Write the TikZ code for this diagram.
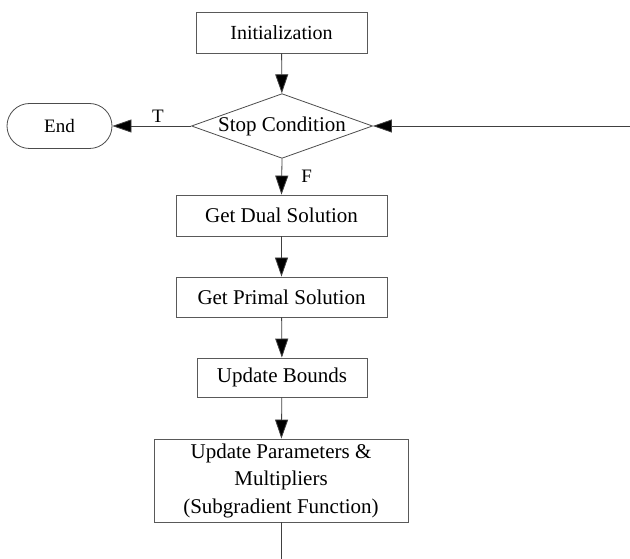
\documentclass[tikz,border=0pt]{standalone}
\usepackage{fontspec}
\setmainfont{Liberation Serif}
\usetikzlibrary{shapes.geometric,arrows.meta}
\tikzset{
  procbox/.style={rectangle, draw=black!65, line width=0.8pt, inner sep=0pt, align=center, font=\fontsize{21}{27.5}\selectfont},
  decbox/.style={diamond, draw=black!70, line width=0.8pt, aspect=2.8, inner sep=0pt, font=\fontsize{21}{24}\selectfont},
  termbox/.style={rectangle, rounded corners=22.5pt, draw=black!70, line width=0.8pt, minimum width=105pt, minimum height=45pt, font=\fontsize{19}{22}\selectfont},
  flowarrow/.style={draw=black!75, line width=0.8pt, -{Triangle[length=19pt,width=13pt,fill=black]}},
  branchlbl/.style={font=\fontsize{19}{22}\selectfont}
}
\begin{document}
\begin{tikzpicture}[x=1pt,y=-1pt]
  \useasboundingbox (0,0) rectangle (630,559);

  \node [procbox, minimum width=171pt, minimum height=41pt, font=\fontsize{20}{24}\selectfont] (init) at (281.5,32.5) {Initialization};
  \node [decbox] (stop) at (282,126) {Stop Condition};
  \node [termbox] (end) at (59.5,126) {End};
  \node [procbox, minimum width=211pt, minimum height=41pt] (dual) at (281.5,215.5) {Get Dual Solution};
  \node [procbox, minimum width=211pt, minimum height=40pt] (primal) at (281.5,297) {Get Primal Solution};
  \node [procbox, minimum width=170pt, minimum height=39pt] (bounds) at (282,377.5) {Update Bounds};
  \node [procbox, minimum width=254pt, minimum height=83pt] (params) at (281,480.5) {Update Parameters \&\\Multipliers\\(Subgradient Function)};

  % loop ends cut off by the picture border
  \coordinate (loopin) at (630,126);
  \coordinate (loopout) at (281,559);

  \draw [flowarrow] (init) -- (stop);
  \draw [flowarrow] (stop.west) -- node [branchlbl, above, pos=0.42] {T} (end.east);
  \draw [flowarrow] (loopin) -- (stop.east);
  \draw [flowarrow] (stop.south) -- node [branchlbl, right=16pt] {F} (dual.north);
  \draw [flowarrow] (dual) -- (primal);
  \draw [flowarrow] (primal) -- (bounds);
  \draw [flowarrow] (bounds) -- (params);
  \draw [draw=black!75, line width=0.8pt] (params) -- (loopout);
\end{tikzpicture}
\end{document}
